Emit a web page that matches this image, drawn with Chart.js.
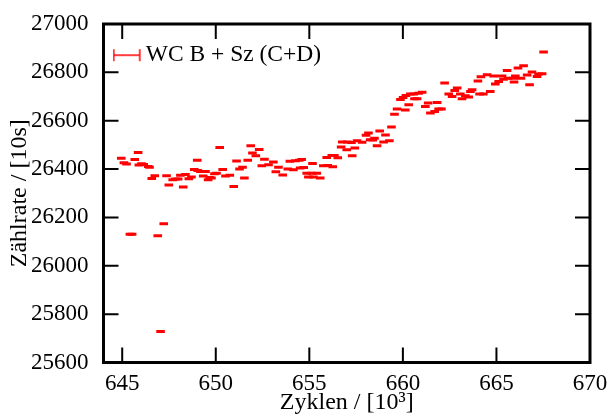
<!DOCTYPE html>
<html>
<head>
<meta charset="utf-8">
<script src="https://cdn.jsdelivr.net/npm/chart.js@4.4.1/dist/chart.umd.min.js"></script>
<style>
  body { margin: 0; background: #fff; }
  #wrap { width: 611px; height: 417px; }
</style>
</head>
<body>
<div id="wrap"><canvas id="chart"></canvas></div>
<script>
// Messwerte: Zyklen (x 10^3) und Zählrate pro 10s
const cycles = [
  644.95, 645.09, 645.23, 645.41, 645.53, 645.67, 645.85, 645.89, 646.03, 646.15,
  646.39, 646.46, 646.58, 646.74, 646.90, 647.05, 647.22, 647.37, 647.49, 647.70,
  647.85, 647.99, 648.11, 648.26, 648.38, 648.56, 648.70, 648.85, 649.01, 649.04,
  649.18, 649.33, 649.45, 649.59, 649.68, 649.77, 649.93, 650.04, 650.21, 650.37,
  650.52, 650.75, 650.96, 651.11, 651.27, 651.43, 651.53, 651.71, 651.87, 651.96,
  652.14, 652.32, 652.46, 652.60, 652.82, 653.08, 653.21, 653.35, 653.58, 653.85,
  653.96, 654.15, 654.26, 654.46, 654.51, 654.59, 654.70, 654.86, 654.95, 655.13,
  655.17, 655.22, 655.40, 655.58, 655.75, 655.93, 655.98, 656.20, 656.25, 656.34,
  656.52, 656.70, 656.76, 657.00, 657.03, 657.25, 657.29, 657.43, 657.55, 657.82,
  658.03, 658.16, 658.25, 658.39, 658.48, 658.62, 658.76, 658.97, 659.07, 659.28,
  659.39, 659.55, 659.69, 659.87, 660.01, 660.13, 660.16, 660.31, 660.40, 660.58,
  660.62, 660.76, 660.84, 661.03, 661.20, 661.35, 661.47, 661.70, 661.83, 661.91,
  662.06, 662.23, 662.45, 662.63, 662.77, 662.90, 663.07, 663.16, 663.34, 663.52,
  663.61, 663.70, 664.01, 664.10, 664.17, 664.30, 664.50, 664.67, 664.85, 664.94,
  665.12, 665.30, 665.38, 665.57, 665.62, 665.89, 665.94, 666.01, 666.15, 666.31,
  666.45, 666.64, 666.77, 666.90, 667.17, 667.25, 667.44, 667.52
];
const counts = [
  26445, 26426, 26421, 26130, 26130, 26440, 26469, 26417, 26422, 26419,
  26411, 26408, 26361, 26372, 26124, 25728, 26174, 26372, 26334, 26356,
  26359, 26359, 26374, 26326, 26378, 26360, 26367, 26398, 26436, 26394,
  26390, 26371, 26390, 26356, 26365, 26363, 26381, 26383, 26489, 26398,
  26371, 26374, 26328, 26433, 26400, 26408, 26363, 26437, 26496, 26466,
  26455, 26481, 26414, 26441, 26418, 26429, 26389, 26408, 26375, 26400,
  26432, 26397, 26434, 26437, 26404, 26440, 26407, 26383, 26367, 26383,
  26423, 26367, 26383, 26363, 26414, 26448, 26415, 26456, 26410, 26456,
  26447, 26491, 26512, 26480, 26512, 26510, 26455, 26487, 26517, 26511,
  26540, 26549, 26521, 26520, 26527, 26496, 26557, 26512, 26541, 26517,
  26574, 26627, 26648, 26688, 26696, 26644, 26704, 26666, 26711, 26711,
  26691, 26691, 26714, 26718, 26659, 26673, 26632, 26638, 26675, 26648,
  26648, 26756, 26711, 26700, 26725, 26735, 26711, 26691, 26703, 26698,
  26721, 26728, 26764, 26710, 26782, 26710, 26790, 26721, 26785, 26752,
  26762, 26785, 26772, 26808, 26776, 26776, 26760, 26785, 26818, 26776,
  26827, 26789, 26749, 26801, 26783, 26793, 26794, 26884
];
const seriesLabel = "WC B + Sz (C+D)";
const xTitle = "Zyklen / [10³]";
const yTitle = "Zählrate / [10s]";
const xTicks = [645, 650, 655, 660, 665, 670];
const yTicks = [25600, 25800, 26000, 26200, 26400, 26600, 26800, 27000];

const serif = "'Liberation Serif', 'DejaVu Serif', serif";

// Legendensymbol: Fehlerbalken |--|
function errorBarSymbol() {
  const c = document.createElement("canvas");
  c.width = 32;
  c.height = 16;
  const g = c.getContext("2d");
  g.strokeStyle = "#ff0000";
  g.lineWidth = 1.5;
  g.beginPath();
  g.moveTo(1, 8); g.lineTo(27, 8);
  g.moveTo(1, 2); g.lineTo(1, 14);
  g.moveTo(27, 2); g.lineTo(27, 14);
  g.stroke();
  return c;
}

// Rahmen und nach innen zeigende Ticks auf allen vier Seiten
const frameTicks = {
  id: "frameTicks",
  afterDatasetsDraw(chart) {
    const { ctx, chartArea: a, scales } = chart;
    const len = 15;
    ctx.save();
    ctx.strokeStyle = "#000";
    ctx.lineWidth = 2;
    ctx.beginPath();
    scales.x.ticks.forEach((t) => {
      const px = scales.x.getPixelForValue(t.value);
      ctx.moveTo(px, a.bottom); ctx.lineTo(px, a.bottom - len);
      ctx.moveTo(px, a.top); ctx.lineTo(px, a.top + len);
    });
    scales.y.ticks.forEach((t) => {
      const py = scales.y.getPixelForValue(t.value);
      ctx.moveTo(a.left, py); ctx.lineTo(a.left + len, py);
      ctx.moveTo(a.right, py); ctx.lineTo(a.right - len, py);
    });
    ctx.stroke();
    ctx.lineWidth = 3;
    ctx.strokeRect(a.left, a.top, a.right - a.left, a.bottom - a.top);
    ctx.restore();
  },
};

new Chart(document.getElementById("chart"), {
  type: "scatter",
  data: {
    datasets: [
      {
        label: seriesLabel,
        data: cycles.map((c, i) => ({ x: c, y: counts[i] })),
        pointStyle: "line",
        radius: 4.3,
        borderWidth: 3,
        borderColor: "#ff0000",
        backgroundColor: "#ff0000",
        showLine: false,
      },
    ],
  },
  options: {
    responsive: true,
    maintainAspectRatio: false,
    animation: false,
    events: [],
    layout: { padding: { left: 0, top: 24, right: 21, bottom: 0 } },
    plugins: {
      tooltip: { enabled: false },
      legend: {
        position: "chartArea",
        align: "start",
        // leerer Titel schiebt den Eintrag nach unten
        title: { display: true, text: " ", font: { size: 2 }, padding: { top: 21, bottom: 0 } },
        labels: {
          usePointStyle: true,
          pointStyle: errorBarSymbol(),
          pointStyleWidth: 10.5,
          padding: 20,
          color: "#000",
          font: { family: serif, size: 23.5 },
        },
      },
    },
    scales: {
      x: {
        type: "linear",
        min: 644,
        max: 670,
        afterBuildTicks: (scale) => { scale.ticks = xTicks.map((v) => ({ value: v })); },
        afterFit: (scale) => { scale.height = 54.5; },
        grid: { display: false },
        border: { display: false },
        ticks: {
          padding: 0,
          color: "#000",
          font: { family: serif, size: 23 },
          callback: (v) => String(v),
        },
        title: {
          display: true,
          text: xTitle,
          color: "#000",
          font: { family: serif, size: 24 },
          padding: { top: 0, bottom: 0 },
        },
      },
      y: {
        type: "linear",
        min: 25600,
        max: 27000,
        afterBuildTicks: (scale) => { scale.ticks = yTicks.map((v) => ({ value: v })); },
        afterFit: (scale) => { scale.width = 103.5; },
        grid: { display: false },
        border: { display: false },
        ticks: {
          padding: 7,
          color: "#000",
          font: { family: serif, size: 23 },
          callback: (v) => String(v),
        },
        title: {
          display: true,
          text: yTitle,
          color: "#000",
          font: { family: serif, size: 24 },
          padding: { top: 5.5, bottom: 0 },
        },
      },
    },
  },
  plugins: [frameTicks],
});
</script>
</body>
</html>
